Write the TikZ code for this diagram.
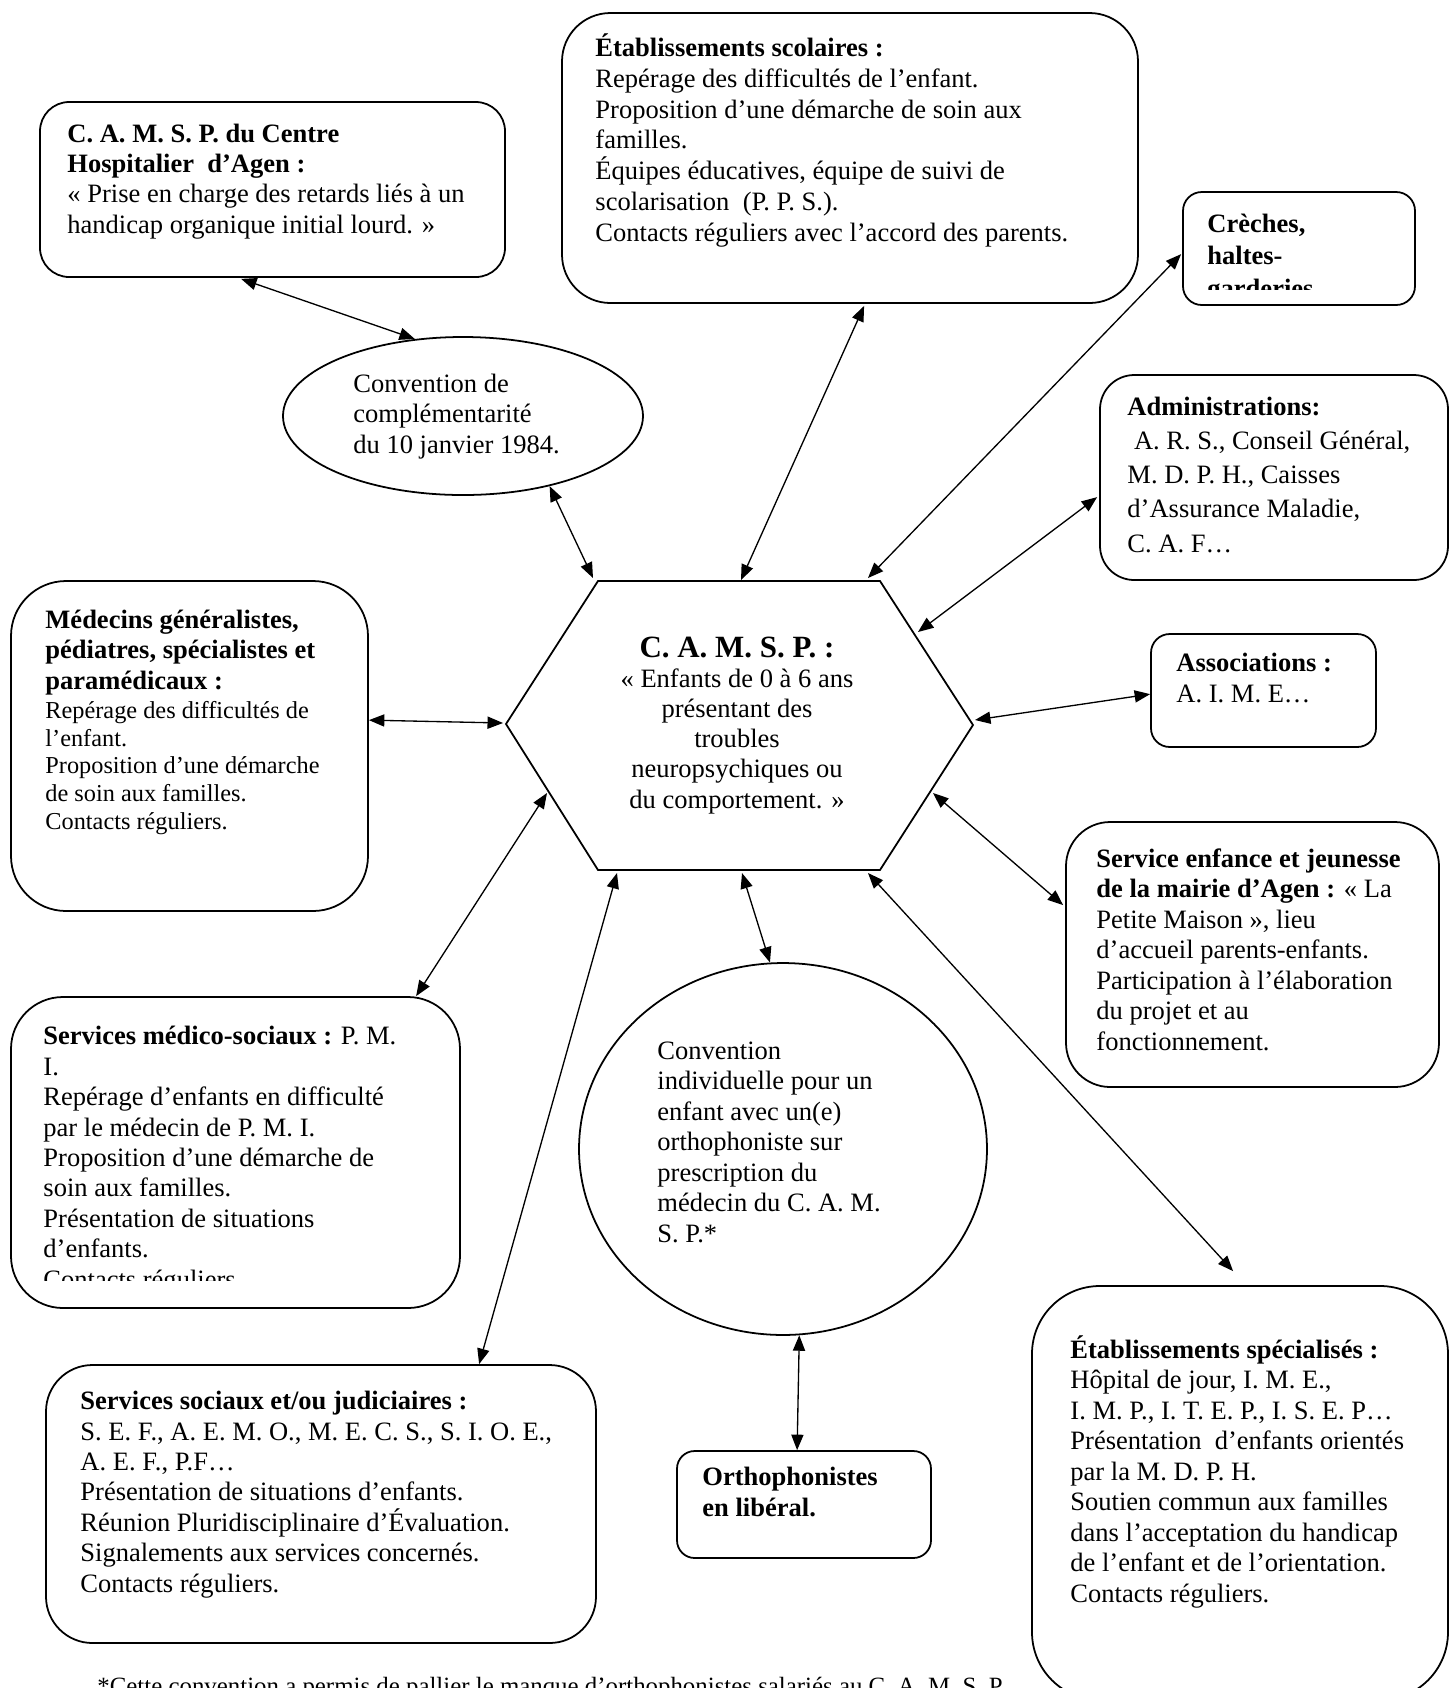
\documentclass[tikz,border=0pt]{standalone}
\usepackage{fontspec}
\setmainfont{Liberation Serif}
\usetikzlibrary{arrows.meta, fit, shapes.geometric}

\begin{document}
\begin{tikzpicture}[x=0.4525pt, y=-0.4525pt,
  >={Triangle[length=7pt,width=5.5pt]},
  cadre/.style={draw, line width=0.8pt, inner sep=0pt},
  bulle/.style={draw, ellipse, line width=0.8pt, inner sep=0pt},
  texte/.style={inner sep=0pt, anchor=base west, align=left},
  lien/.style={<->, line width=0.6pt}]
\useasboundingbox (0,0) rectangle (1450,1688);
% Hexagone central
\coordinate (hA) at (598,581);
\coordinate (hB) at (880,581);
\coordinate (hC) at (973,725);
\coordinate (hD) at (880,870);
\coordinate (hE) at (598,870);
\coordinate (hF) at (506,724);
\draw[line width=0.8pt] (hA) -- (hB) -- (hC) -- (hD) -- (hE) -- (hF) -- cycle;
% (les textes sont places par la ligne de base de leur derniere ligne)
\node[anchor=base, align=center, inner sep=0pt, font=\fontsize{12}{13.6}\selectfont] (camsp) at (737,808)
  {{\fontsize{14}{15}\selectfont\bfseries C. A. M. S. P. :}\\ « Enfants de 0 à 6 ans\\ présentant des\\ troubles\\ neuropsychiques ou\\ du comportement. »};
% Cadres
\node[cadre, rounded corners=13.2pt, fit={(40,102) (505,277)}] (ch) {};
\node[cadre, rounded corners=21.9pt, fit={(562,13) (1138,303)}] (scol) {};
\node[cadre, rounded corners=8.5pt, fit={(1183,192) (1415,305)}] (creches) {};
\node[cadre, rounded corners=15.5pt, fit={(1100,375) (1448,580)}] (admin) {};
\node[cadre, rounded corners=8.5pt, fit={(1151,634) (1376,747)}] (assoc) {};
\node[cadre, rounded corners=20pt, fit={(1066,822) (1439,1087)}] (enfance) {};
\node[cadre, rounded corners=30.7pt, fit={(1032,1286) (1448,1700)}] (spec) {};
\node[cadre, rounded corners=24.9pt, fit={(11,581) (368,911)}] (medecins) {};
\node[cadre, rounded corners=23.5pt, fit={(11,997) (460,1308)}] (medsoc) {};
\node[cadre, rounded corners=21pt, fit={(46,1365) (596,1643)}] (soc) {};
\node[cadre, rounded corners=8pt, fit={(677,1451) (931,1558)}] (ortho) {};
% Bulles
\node[bulle, minimum width=162.9pt, minimum height=71.5pt] (comp) at (463,416) {};
\node[bulle, minimum width=184.6pt, minimum height=168.3pt] (indiv) at (783,1149) {};
% Textes
\node[texte, font=\fontsize{12}{13.6}\selectfont] (ch-t) at (67,233)
  {\textbf{C. A. M. S. P. du Centre}\\ \textbf{Hospitalier\ \ d’Agen :}\\ « Prise en charge des retards liés à un\\ handicap organique initial lourd. »};
\node[texte, font=\fontsize{12}{13.9}\selectfont] (scol-t) at (595,241)
  {\textbf{Établissements scolaires :}\\ Repérage des difficultés de l’enfant.\\ Proposition d’une démarche de soin aux\\ familles.\\ Équipes éducatives, équipe de suivi de\\ scolarisation\ \ (P. P. S.).\\ Contacts réguliers avec l’accord des parents.};
\begin{scope}
  \clip (1183,192) rectangle (1415,289);
  \node[texte, font=\fontsize{12}{14.5}\selectfont\bfseries] (creches-t) at (1207,297)
    {Crèches,\\ haltes-\\ garderies};
\end{scope}
\node[texte, font=\fontsize{12}{15.4}\selectfont] (admin-t) at (1127,552)
  {\textbf{Administrations:}\\ \ A. R. S., Conseil Général,\\ M. D. P. H., Caisses\\ d’Assurance Maladie,\\ C. A. F…};
\node[texte, font=\fontsize{12}{13.6}\selectfont] (assoc-t) at (1176,702)
  {\textbf{Associations :}\\ A. I. M. E…};
\node[texte, font=\fontsize{12}{13.8}\selectfont] (enfance-t) at (1096,1050)
  {\textbf{Service enfance et jeunesse}\\ \textbf{de la mairie d’Agen :} « La\\ Petite Maison », lieu\\ d’accueil parents-enfants.\\ Participation à l’élaboration\\ du projet et au\\ fonctionnement.};
\node[texte, font=\fontsize{12}{13.8}\selectfont] (spec-t) at (1070,1602)
  {\textbf{Établissements spécialisés :}\\ Hôpital de jour, I. M. E.,\\ I. M. P., I. T. E. P., I. S. E. P…\\ Présentation\ \ d’enfants orientés\\ par la M. D. P. H.\\ Soutien commun aux familles\\ dans l’acceptation du handicap\\ de l’enfant et de l’orientation.\\ Contacts réguliers.};
\node[texte, font=\fontsize{12}{13.6}\selectfont\bfseries] (medecins-t) at (45,689)
  {Médecins généralistes,\\ pédiatres, spécialistes et\\ paramédicaux :};
\node[texte, font=\fontsize{11}{12.5}\selectfont] (medecins-c) at (45,829)
  {Repérage des difficultés de\\ l’enfant.\\ Proposition d’une démarche\\ de soin aux familles.\\ Contacts réguliers.};
\begin{scope}
  \clip (11,997) rectangle (460,1280);
  \node[texte, font=\fontsize{12}{13.75}\selectfont] (medsoc-t) at (43,1288)
    {\textbf{Services médico-sociaux :} P. M.\\ I.\\ Repérage d’enfants en difficulté\\ par le médecin de P. M. I.\\ Proposition d’une démarche de\\ soin aux familles.\\ Présentation de situations\\ d’enfants.\\ Contacts réguliers.};
\end{scope}
\node[texte, font=\fontsize{12}{13.75}\selectfont] (soc-t) at (80,1592)
  {\textbf{Services sociaux et/ou judiciaires :}\\ S. E. F., A. E. M. O., M. E. C. S., S. I. O. E.,\\ A. E. F., P.F…\\ Présentation de situations d’enfants.\\ Réunion Pluridisciplinaire d’Évaluation.\\ Signalements aux services concernés.\\ Contacts réguliers.};
\node[texte, font=\fontsize{12}{13.6}\selectfont\bfseries] (ortho-t) at (702,1516)
  {Orthophonistes\\ en libéral.};
\node[texte, font=\fontsize{12}{13.8}\selectfont] (comp-t) at (353,453)
  {Convention de\\ complémentarité\\ du 10 janvier 1984.};
\node[texte, font=\fontsize{12}{13.8}\selectfont] (indiv-t) at (657,1242)
  {Convention\\ individuelle pour un\\ enfant avec un(e)\\ orthophoniste sur\\ prescription du\\ médecin du C. A. M.\\ S. P.*};
\node[texte, font=\fontsize{11.25}{13}\selectfont] (note) at (97,1694)
  {*Cette convention a permis de pallier le manque d’orthophonistes salariés au C. A. M. S. P.};
% Liens
\draw[lien] ([shift={(202,1)}]ch.south west) -- (comp.122);
\draw[lien] (comp.-39) -- ([shift={(-5,-3)}]hA);
\draw[lien] ([shift={(303,2)}]scol.south west) -- ([shift={(143,-1)}]hA);
\draw[lien] ([shift={(-1,63)}]creches.north west) -- ([shift={(-12,-3)}]hB);
\draw[lien] ([shift={(-2,123)}]admin.north west) -- ([shift={(38,51)}]hB);
\draw[lien] ([shift={(0,61)}]assoc.north west) -- ([shift={(2,-5)}]hC);
\draw[lien] ([shift={(-2,84)}]enfance.north west) -- ([shift={(-40,68)}]hC);
\draw[lien] ([shift={(202,-14)}]spec.north west) -- ([shift={(-12,3)}]hD);
\draw[lien] (indiv.94) -- ([shift={(144,3)}]hE);
\draw[lien] (indiv.-85) -- ([shift={(121,0)}]ortho.north west);
\draw[lien] ([shift={(434,0)}]soc.north west) -- ([shift={(19,3)}]hE);
\draw[lien] ([shift={(406,0)}]medsoc.north west) -- ([shift={(41,69)}]hF);
\draw[lien] ([shift={(0,140)}]medecins.north east) -- ([shift={(-3,-1)}]hF);
\end{tikzpicture}
\end{document}
